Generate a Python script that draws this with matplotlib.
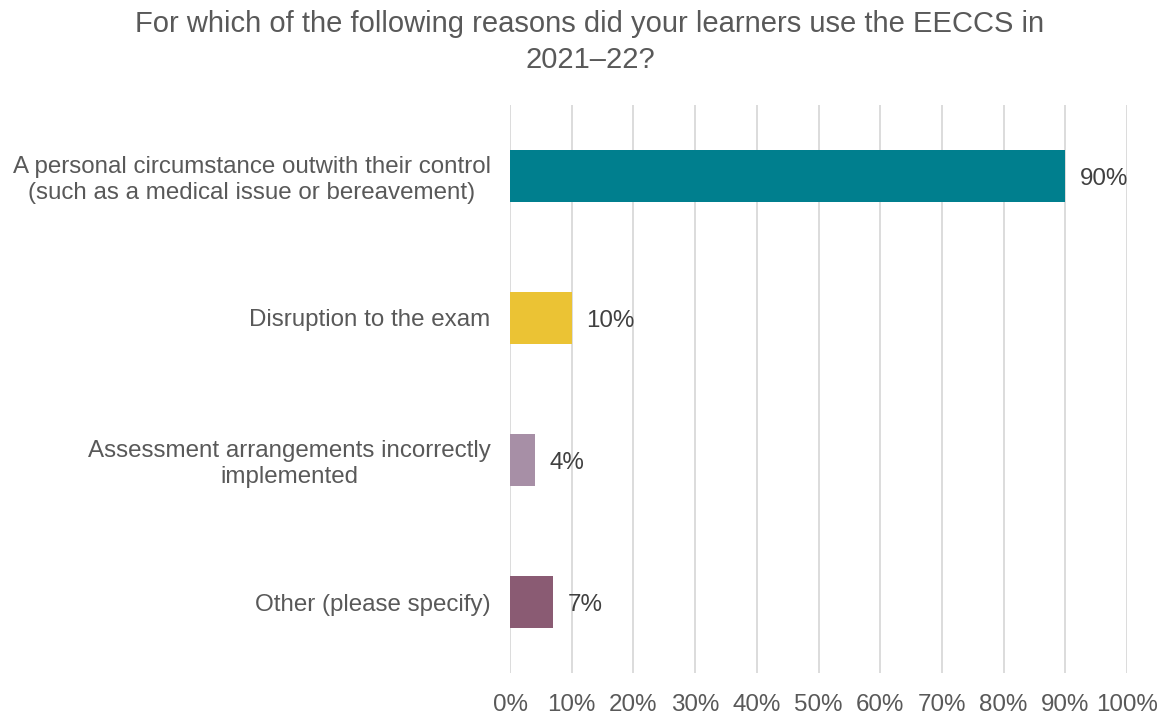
import matplotlib
matplotlib.use("Agg")
import matplotlib.pyplot as plt

plt.rcParams['font.family'] = ['Liberation Sans', 'DejaVu Sans']

categories = [
    "A personal circumstance outwith their control\n(such as a medical issue or bereavement)",
    "Disruption to the exam",
    "Assessment arrangements incorrectly\nimplemented",
    "Other (please specify)",
]
values = [90, 10, 4, 7]
colors = ["#007F8E", "#EBC334", "#A78FA6", "#8A5B73"]
xticks = list(range(0, 101, 10))
title = "For which of the following reasons did your learners use the EECCS in\n2021\u201322?"

text_grey = "#595959"

fig = plt.figure(figsize=(11.63, 7.15), dpi=100)
ax = fig.add_axes([510 / 1163, 1 - 673 / 715, 617 / 1163, 568 / 715])

ypos = list(range(len(categories)))
ax.barh(ypos, values, height=0.36, color=colors, zorder=3)

for y, v in zip(ypos, values):
    ax.text(v + 2.4, y + 0.02, f"{v}%", va="center", ha="left", fontsize=17.4, color="#404040")

ax.set_xlim(0, 100)
ax.set_ylim(len(categories) - 0.5, -0.5)
ax.set_xticks(xticks)
ax.set_xticklabels([f"{t}%" for t in xticks], fontsize=17.4, color=text_grey)
ax.set_yticks(ypos)
ax.set_yticklabels(categories, fontsize=17.4, color=text_grey, ha="right",
                   multialignment="center")
ax.tick_params(axis="x", length=0, pad=15)
ax.tick_params(axis="y", length=0, pad=14)
ax.grid(axis="x", color="#D9D9D9", linewidth=1.3, zorder=0)
for s in ax.spines.values():
    s.set_visible(False)

fig.text(590 / 1163, 1 - 42 / 715, title, ha="center", va="center",
         fontsize=21, color=text_grey, linespacing=1.4)

fig.savefig("out.png", dpi=100, facecolor="white")
